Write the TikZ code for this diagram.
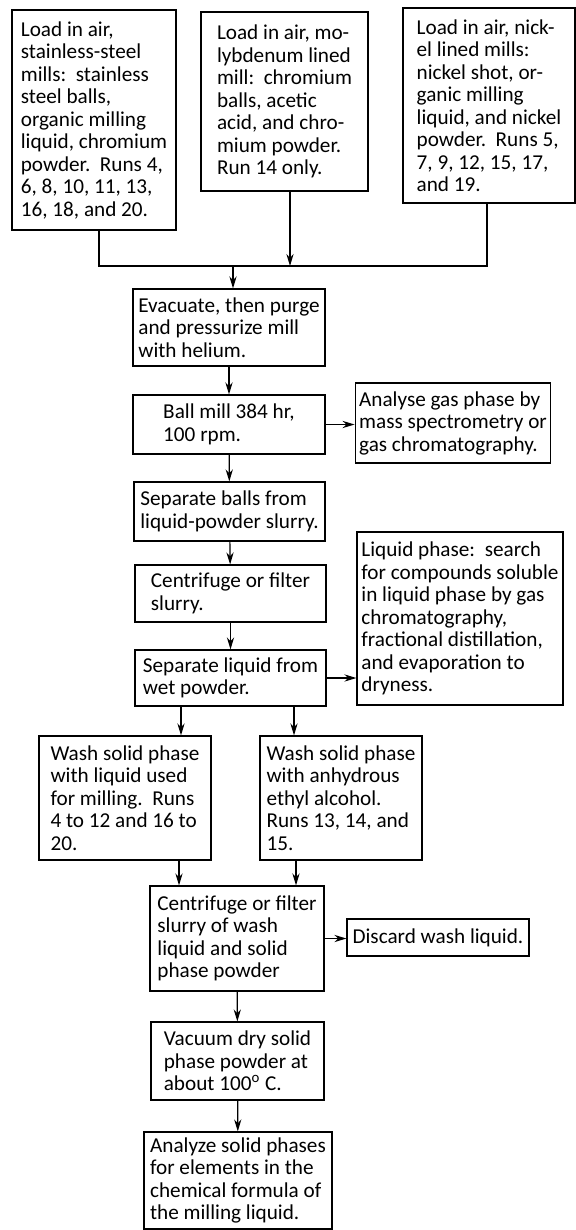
\documentclass[tikz,border=0pt]{standalone}
\usepackage{fontspec}
\setmainfont{Carlito}
\usetikzlibrary{arrows.meta}

\tikzset{
	flowbox/.style={draw,inner sep=2pt,align=left,font=\fontsize{10.6}{11.25}\selectfont},
}

\begin{document}
\begin{tikzpicture}[>={Stealth[length=6pt,width=3.6pt]},x=0.5pt,y=-0.5pt,line width=0.6pt]
	\useasboundingbox (0,0) rectangle (576,1230);
	% three loading routes
	\node[flowbox,minimum width=82pt,minimum height=110pt] (load1) at (94,120)
		{Load in air,\\stainless-steel\\mills:\ \ stainless\\steel balls,\\organic milling\\liquid, chromium\\powder.\ \ Runs 4,\\6, 8, 10, 11, 13,\\16, 18, and 20.};
	\node[flowbox,minimum width=83.5pt,minimum height=89.5pt] (load2) at (284.5,101.5)
		{Load in air, mo-\\lybdenum lined\\mill:\ \ chromium\\balls, acetic\\acid, and chro-\\mium powder.\\Run 14 only.};
	\node[flowbox,minimum width=86pt,minimum height=97.5pt] (load3) at (489,105.5)
		{Load in air, nick-\\el lined mills:\\nickel shot, or-\\ganic milling\\liquid, and nickel\\powder.\ \ Runs 5,\\7, 9, 12, 15, 17,\\and 19.};
	% main line
	\node[flowbox,minimum width=96pt,minimum height=38.5pt] (evac) at (229,327.5)
		{Evacuate, then purge\\and pressurize mill\\with helium.};
	\node[flowbox,minimum width=96pt,minimum height=29.5pt] (ball) at (229,424.5)
		{Ball mill 384 hr,\\100 rpm.};
	\node[flowbox,minimum width=96pt,minimum height=40pt] (gas) at (453,423)
		{Analyse gas phase by\\mass spectrometry or\\gas chromatography.};
	\node[flowbox,minimum width=95.5pt,minimum height=29.5pt] (sepballs) at (229.5,511.5)
		{Separate balls from\\liquid-powder slurry.};
	\node[flowbox,minimum width=95.5pt,minimum height=28.5pt] (centr) at (230.5,593.5)
		{Centrifuge or filter\\slurry.};
	\node[flowbox,minimum width=95.5pt,minimum height=28pt] (sepliq) at (230.5,678)
		{Separate liquid from\\wet powder.};
	\node[flowbox,minimum width=103pt,minimum height=86.5pt] (liquid) at (460,618.5)
		{Liquid phase:\ \ search\\for compounds soluble\\in liquid phase by gas\\chromatography,\\fractional distillation,\\and evaporation to\\dryness.};
	% washing
	\node[flowbox,minimum width=86pt,minimum height=62pt] (washa) at (125,798)
		{Wash solid phase\\with liquid used\\for milling.\ \ Runs\\4 to 12 and 16 to\\20.};
	\node[flowbox,minimum width=81pt,minimum height=62pt] (washb) at (341,798)
		{Wash solid phase\\with anhydrous\\ethyl alcohol.\\Runs 13, 14, and\\15.};
	\node[flowbox,minimum width=87pt,minimum height=52.5pt] (centrb) at (237,938.5)
		{Centrifuge or filter\\slurry of wash\\liquid and solid\\phase powder};
	\node[flowbox,minimum width=91pt,minimum height=18.5pt] (discard) at (438,937.5)
		{Discard wash liquid.};
	\node[flowbox,minimum width=86.5pt,minimum height=39pt] (vac) at (237.5,1061)
		{Vacuum dry solid\\phase powder at\\about 100\textsuperscript{o} C.};
	\node[flowbox,minimum width=94pt,minimum height=48.5pt] (analyze) at (238,1180.5)
		{Analyze solid phases\\for elements in the\\chemical formula of\\the milling liquid.};
	% join of the three routes
	\coordinate (jl) at (99,266);
	\coordinate (jm) at (290,266);
	\coordinate (jr) at (487,266);
	\coordinate (j) at (233,266);
	\draw (load1.south -| jl) -- (jl) -- (jr) -- (load3.south -| jr);
	\draw[->] (load2.south -| jm) -- (jm);
	\draw[->] (j) -- (evac.north -| j);
	\draw[->] (evac) -- (ball);
	\draw[->] (ball.east) -- (ball.east -| gas.west);
	\draw[->] (ball) -- (sepballs);
	\draw[->] (sepballs) -- (centr);
	\draw[->] (centr) -- (sepliq);
	\draw[->] (sepliq.east) -- (sepliq.east -| liquid.west);
	% split to the two washes
	\coordinate (wa) at (181,720);
	\coordinate (wb) at (294,720);
	\draw[->] (sepliq.south -| wa) -- (washa.north -| wa);
	\draw[->] (sepliq.south -| wb) -- (washb.north -| wb);
	\coordinate (ca) at (179,873);
	\coordinate (cb) at (296,873);
	\draw[->] (washa.south -| ca) -- (centrb.north -| ca);
	\draw[->] (washb.south -| cb) -- (centrb.north -| cb);
	\draw[->] (centrb.east) -- (centrb.east -| discard.west);
	\draw[->] (centrb) -- (vac);
	\draw[->] (vac) -- (analyze);
\end{tikzpicture}
\end{document}
